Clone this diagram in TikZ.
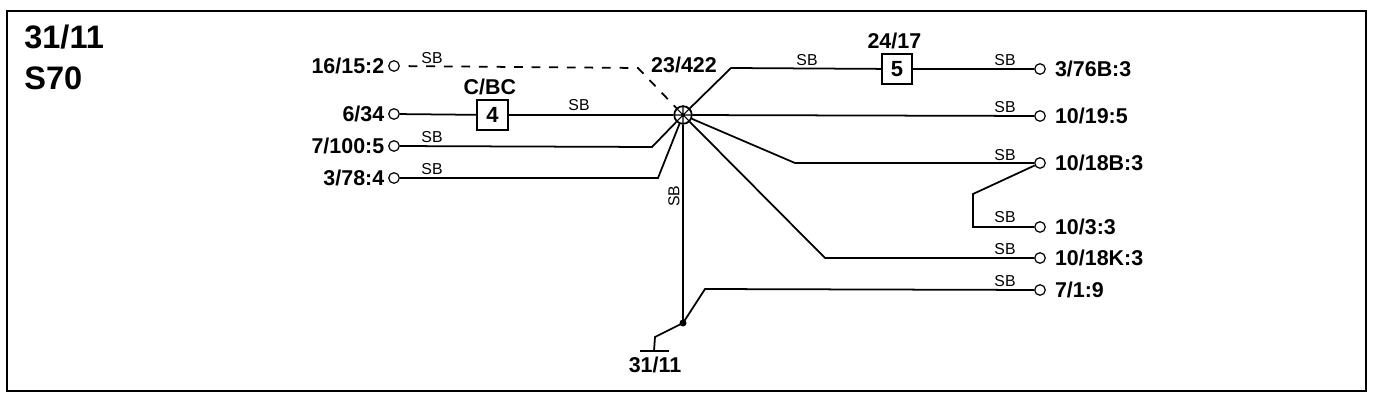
\documentclass[tikz,border=0pt]{standalone}
\usepackage{fontspec}
\setmainfont{Liberation Sans}
\usetikzlibrary{positioning}
\tikzset{
	pin/.style={draw,circle,inner sep=0pt,minimum size=6pt,line width=0.7pt},
	pinlabel/.style={font=\bfseries\fontsize{12.2}{12.2}\selectfont,inner sep=0pt},
	boxnum/.style={draw,line width=1.1pt,minimum width=17.4pt,minimum height=17.2pt,inner sep=0pt,font=\fontsize{12.5}{12.5}\selectfont\bfseries},
	wire/.style={line width=1pt},
	sb/.style={font=\fontsize{9}{9}\selectfont,inner sep=0pt}
}
\begin{document}
\begin{tikzpicture}[x=0.02cm,y=-0.02cm]
	\useasboundingbox (0,0) rectangle (1392,402);
	\draw[line width=1.1pt] (7,11) rectangle (1366,391);
	\node[font=\bfseries\fontsize{18.5}{18.5}\selectfont,inner sep=0pt,anchor=base west] (sheet) at (24,49) {31/11};
	\node[font=\bfseries\fontsize{18.5}{18.5}\selectfont,inner sep=0pt,anchor=base west] (model) at (24,90) {S70};
	% hub
	\node[draw,circle,line width=1pt,minimum size=10pt,inner sep=0pt] (hub) at (683,115) {};
	\draw[line width=0.6pt] (hub.north)--(hub.south) (hub.west)--(hub.east) (hub.north west)--(hub.south east) (hub.north east)--(hub.south west);
	\node[pinlabel,anchor=base] (hublabel) at (684,72) {23/422};
	% left pins
	\node[pin] (a) at (394,66) {};
	\node[pin] (b) at (394,114) {};
	\node[pin] (c) at (394,146) {};
	\node[pin] (d) at (394,178) {};
	\node[pinlabel,left=2pt of a] (alabel) {16/15:2};
	\node[pinlabel,left=2pt of b] (blabel) {6/34};
	\node[pinlabel,left=2pt of c] (clabel) {7/100:5};
	\node[pinlabel,left=2pt of d] (dlabel) {3/78:4};
	% right pins
	\node[pin] (e) at (1040,69) {};
	\node[pin] (f) at (1040,116) {};
	\node[pin] (g) at (1040,163) {};
	\node[pin] (h) at (1040,227) {};
	\node[pin] (i) at (1040,258) {};
	\node[pin] (j) at (1040,290) {};
	\node[pinlabel,right=5pt of e] (elabel) {3/76B:3};
	\node[pinlabel,right=5pt of f] (flabel) {10/19:5};
	\node[pinlabel,right=5pt of g] (glabel) {10/18B:3};
	\node[pinlabel,right=5pt of h] (hlabel) {10/3:3};
	\node[pinlabel,right=5pt of i] (ilabel) {10/18K:3};
	\node[pinlabel,right=5pt of j] (jlabel) {7/1:9};
	% boxes
	\node[boxnum] (box4) at (492.5,115) {4};
	\node[boxnum] (box5) at (897,69) {5};
	\node[pinlabel,above=2pt of box4,xshift=-1.5pt] (box4label) {C/BC};
	\node[pinlabel,above=2pt of box5,xshift=-1.5pt] (box5label) {24/17};
	% ground
	\coordinate (joint) at (683,323);
	\coordinate (gndl) at (640,351);
	\coordinate (gndr) at (669,351);
	\node[pinlabel,anchor=base] (gndlabel) at (655,372) {31/11};
	% wires
	\draw[wire,dash pattern=on 5pt off 5pt,dash phase=-5pt] (a)--(638,68)--(hub);
	\draw[wire] (b)--(box4);
	\draw[wire] (box4)--(hub);
	\draw[wire] (c)--(652,147)--(hub);
	\draw[wire] (d)--(658,178)--(hub);
	\draw[wire] (hub)--(731,68)--(box5);
	\draw[wire] (box5)--(e);
	\draw[wire] (hub)--(f);
	\draw[wire] (hub)--(795,163)--(g);
	\draw[wire] (hub)--(825,258)--(i);
	\draw[wire] (g)--(973,194)--(973,227)--(h);
	\draw[line width=1.4pt] (hub)--(joint);
	\fill (joint) circle (3.5);
	\draw[wire] (joint)--(705,289)--(j);
	\draw[wire] (joint)--(655,337)--(654,351);
	\draw[wire] (gndl)--(gndr);
	% wire labels
	\node[sb] (sb1) at (432,58) {SB};
	\node[sb] (sb2) at (432,137) {SB};
	\node[sb] (sb3) at (432,169) {SB};
	\node[sb] (sb4) at (579,105) {SB};
	\node[sb,rotate=90] (sb5) at (674,196) {SB};
	\node[sb] (sb6) at (807,60) {SB};
	\node[sb] (sb7) at (1005,60) {SB};
	\node[sb] (sb8) at (1005,107) {SB};
	\node[sb] (sb9) at (1005,155) {SB};
	\node[sb] (sb10) at (1005,217) {SB};
	\node[sb] (sb11) at (1005,249) {SB};
	\node[sb] (sb12) at (1005,281) {SB};
\end{tikzpicture}
\end{document}
